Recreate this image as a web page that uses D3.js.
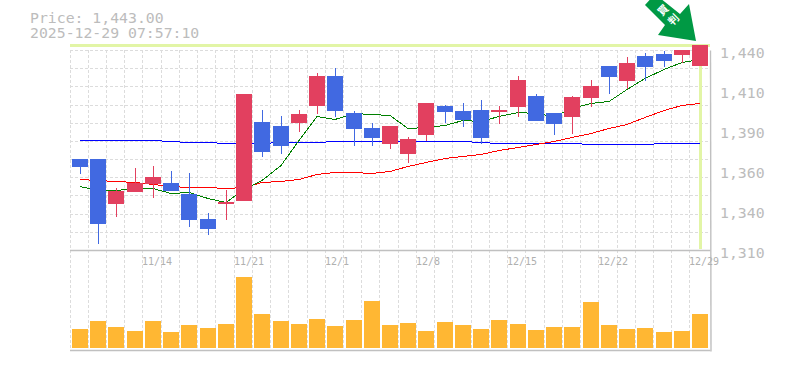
<!DOCTYPE html>
<html>
<head>
<meta charset="utf-8">
<script src="https://cdn.jsdelivr.net/npm/d3@7"></script>
<style>
  html, body { margin: 0; padding: 0; background: #fff; }
  svg { display: block; }
  text { font-family: "DejaVu Sans Mono", monospace; fill: #bcbcbc; }
</style>
</head>
<body>
<div id="chart"></div>
<script>
const dates = ['11/10','11/11','11/12','11/13','11/14','11/17','11/18','11/19','11/20','11/21',
  '11/25','11/26','11/27','11/28','12/1','12/2','12/3','12/4','12/5','12/8',
  '12/9','12/10','12/11','12/12','12/15','12/16','12/17','12/18','12/19','12/22',
  '12/23','12/24','12/25','12/26','12/29'];
const dateTicks = ['11/14','11/21','12/1','12/8','12/15','12/22','12/29'];
const priceTicks = [1310,1336,1362,1388,1414,1440];

const opens = [1369.15,1369.15,1339.9,1347.7,1352.9,1353.55,1346.4,1330.15,1339.9,1341.85,
  1393.2,1390.6,1392.55,1403.6,1423.1,1399.05,1389.3,1378.9,1372.4,1384.75,
  1403.6,1400.35,1401,1399.7,1402.95,1410.1,1399.05,1396.45,1408.8,1429.6,
  1419.85,1436.1,1437.4,1436.75,1429.6];
const highs = [1369.15,1369.15,1350.3,1363.3,1364.6,1361.35,1360.05,1334.05,1349,1411.4,
  1401,1397.1,1401,1425.05,1428.3,1400.35,1392.55,1390.6,1383.45,1405.55,
  1404.25,1405.55,1407.5,1403.6,1423.1,1411.4,1399.05,1410.1,1420.5,1429.6,
  1435.45,1438.05,1439.35,1440,1443.25];
const lows = [1359.4,1313.9,1331.45,1347.7,1343.8,1348.35,1324.95,1319.75,1329.5,1341.85,
  1370.45,1372.4,1386.7,1398.4,1396.45,1377.6,1377.6,1375.65,1366.55,1380.85,
  1392.55,1389.95,1378.9,1391.9,1396.45,1393.85,1384.75,1385.4,1402.95,1411.4,
  1414.65,1419.85,1428.95,1431.55,1429.6];
const closes = [1364.05,1326.9,1348.35,1353.55,1357.45,1348.35,1329.5,1323.65,1341.2,1411.4,
  1373.7,1377.6,1398.4,1423.1,1400.35,1388.65,1382.8,1390.6,1382.15,1405.55,
  1399.7,1394.5,1382.8,1401,1420.5,1393.85,1391.9,1409.45,1416.6,1422.45,
  1431.55,1428.95,1432.85,1440,1443.25];

const maShort = [1351.6,1349,1349,1350.3,1350.3,1347,1347.7,1343.8,1341.2,1349.65,
  1355.5,1365.25,1381.5,1397.1,1395.15,1399.05,1398.4,1397.75,1389.3,1389.95,
  1391.25,1394.5,1393.85,1397.1,1399.7,1399.05,1397.1,1402.3,1405.55,1406.85,
  1414.65,1421.8,1427.65,1432.2,1434.15];
const maMiddle = [1356.15,1355.5,1354.85,1354.2,1352.9,1351.6,1350.95,1350.95,1350.3,1350.95,
  1354.2,1354.85,1356.15,1359.4,1360.7,1360.7,1360.05,1361.35,1364.6,1367.2,
  1369.8,1371.1,1372.4,1375,1376.95,1378.9,1380.85,1383.45,1386.05,1389.3,
  1391.9,1396.45,1401,1404.25,1405.55];
const maLong = [1381.5,1381.5,1381.5,1381.5,1381.5,1380.85,1380.2,1380.2,1379.55,1379.55,
  1379.55,1380.2,1380.2,1380.2,1380.85,1380.85,1380.85,1380.85,1380.85,1380.85,
  1380.85,1380.85,1380.2,1379.55,1379.55,1379.55,1379.55,1379.55,1378.9,1378.9,
  1378.9,1378.9,1379.55,1379.55,1379.55];

const volumes = [190,270,210,170,270,160,230,200,240,710,
  340,270,240,290,220,280,470,230,250,170,
  260,230,190,280,240,180,210,210,460,230,
  190,200,160,170,340];

const lastPrice = 1443;
const priceText = 'Price: 1,443.00';
const timeText = '2025-12-29 07:57:10';
const arrowText = ['買','判'];

const chartWidth = 785, chartHeight = 370;
const plotLeft = 70, plotRight = 710, bandRight = 708.235;
const plotTop = 50, priceBottom = 250, volBottom = 348, axisBottom = 350;

const svg = d3.select('#chart').append('svg')
  .attr('width', chartWidth)
  .attr('height', chartHeight);

const xScale = d3.scaleBand().domain(dates).range([plotLeft, bandRight]);
const yScale = d3.scaleLinear().domain([1310, 1440]).range([priceBottom, plotTop]);
const volScale = d3.scaleLinear().domain([0, 980]).range([volBottom, priceBottom]);

const slotX = d => Math.floor(xScale(d));
const bodyX = d => Math.round(xScale(d) + 2);
const midX = d => bodyX(d) + 8;

// grid
const gridColor = '#dcdcdc';
svg.append('g').selectAll('line')
  .data(dates)
  .enter().append('line')
  .attr('x1', d => slotX(d) + 0.5)
  .attr('x2', d => slotX(d) + 0.5)
  .attr('y1', plotTop)
  .attr('y2', axisBottom)
  .attr('stroke', gridColor)
  .attr('stroke-dasharray', '3,2');

svg.append('g').selectAll('line')
  .data(d3.range(0, 12))
  .enter().append('line')
  .attr('x1', plotLeft)
  .attr('x2', plotRight)
  .attr('y1', d => Math.round(plotTop + d * (priceBottom - plotTop) / 11) + 0.5)
  .attr('y2', d => Math.round(plotTop + d * (priceBottom - plotTop) / 11) + 0.5)
  .attr('stroke', gridColor)
  .attr('stroke-dasharray', '3,2');

// current price and date markers
const markColor = '#e2f5a6';
svg.append('rect')
  .attr('x', plotLeft).attr('y', Math.round(yScale(lastPrice)) - 1)
  .attr('width', plotRight - plotLeft).attr('height', 3)
  .attr('fill', markColor);
svg.append('rect')
  .attr('x', midX(dates[34]) - 1).attr('y', 46)
  .attr('width', 3).attr('height', priceBottom - 47)
  .attr('fill', markColor);

// frame
const frameColor = '#c0c0c0';
[[plotLeft, priceBottom, plotRight, priceBottom], [plotLeft, axisBottom, plotRight, axisBottom], [plotRight, plotTop, plotRight, axisBottom + 1]]
  .forEach(function (l) {
    svg.append('line')
      .attr('x1', l[0]).attr('y1', l[1] + 0.5)
      .attr('x2', l[2] + 0.5).attr('y2', l[3] + 0.5)
      .attr('transform', l[0] === l[2] ? 'translate(0.5,0)' : null)
      .attr('stroke', frameColor)
      .attr('stroke-width', 1.4);
  });

// moving averages sit behind the candles
const maLine = d3.line()
  .x((d, i) => midX(dates[i]))
  .y(d => Math.round(yScale(d)) + 0.5);

[[maLong, '#0000ff'], [maMiddle, '#ff0000'], [maShort, '#008000']].forEach(function (m) {
  svg.append('path')
    .attr('d', maLine(m[0]))
    .attr('fill', 'none')
    .attr('stroke', m[1])
    .attr('stroke-width', 1)
    .attr('shape-rendering', 'crispEdges');
});

// candles
const upColor = '#e2405f', downColor = '#4169e1';
const candles = svg.append('g').selectAll('g')
  .data(dates)
  .enter().append('g')
  .attr('fill', (d, i) => closes[i] >= opens[i] ? upColor : downColor);

candles.append('rect')
  .attr('x', d => midX(d))
  .attr('y', (d, i) => Math.round(yScale(highs[i])))
  .attr('width', 1)
  .attr('height', (d, i) => Math.round(yScale(lows[i])) - Math.round(yScale(highs[i])));

candles.append('rect')
  .attr('x', d => bodyX(d))
  .attr('y', (d, i) => Math.round(yScale(Math.max(opens[i], closes[i]))))
  .attr('width', 16)
  .attr('height', (d, i) => Math.round(yScale(Math.min(opens[i], closes[i]))) - Math.round(yScale(Math.max(opens[i], closes[i]))));

// volume
svg.append('g').selectAll('rect')
  .data(volumes)
  .enter().append('rect')
  .attr('x', (d, i) => bodyX(dates[i]))
  .attr('y', d => Math.round(volScale(d)))
  .attr('width', 16)
  .attr('height', d => volBottom - Math.round(volScale(d)))
  .attr('fill', '#ffb733');

// axes
const yAxis = d3.axisRight(yScale)
  .tickValues(priceTicks)
  .tickSize(0)
  .tickPadding(0)
  .tickFormat(d => d3.format(',')(Math.round(d / 10) * 10));
const yAxisG = svg.append('g')
  .attr('transform', 'translate(720,0)')
  .call(yAxis);
yAxisG.select('.domain').remove();
yAxisG.selectAll('text')
  .attr('dy', null)
  .attr('y', 7)
  .style('font-size', '14.8px');

const xAxis = d3.axisBottom(xScale)
  .tickValues(dateTicks)
  .tickSize(0)
  .tickPadding(0);
const xAxisG = svg.append('g')
  .call(xAxis);
xAxisG.select('.domain').remove();
xAxisG.selectAll('.tick')
  .attr('transform', d => 'translate(' + slotX(d) + ',0)');
xAxisG.selectAll('text')
  .attr('dy', null)
  .attr('y', 265)
  .attr('text-anchor', 'start')
  .style('font-size', '10px')
  .style('fill', '#b0b0b0');

// header
svg.append('text').attr('x', 30).attr('y', 23).style('font-size', '14.8px').text(priceText);
svg.append('text').attr('x', 30).attr('y', 38).style('font-size', '14.8px').text(timeText);

// signal arrow
svg.append('polygon')
  .attr('points', '645,5 665,25 658,35 696,41 689,4 680,14 655,-6')
  .attr('fill', '#009944');
svg.selectAll('.arrowLabel')
  .data(arrowText)
  .enter().append('text')
  .attr('class', 'arrowLabel')
  .attr('transform', (d, i) => 'translate(' + (663 + i * 10.5) + ',' + (10 + i * 9.5) + ') rotate(-45)')
  .attr('text-anchor', 'middle')
  .attr('dy', '0.38em')
  .style('font-family', '"Noto Sans CJK JP"')
  .style('font-weight', 'bold')
  .style('font-size', '10.5px')
  .style('fill', '#fff')
  .text(d => d);
</script>
</body>
</html>
